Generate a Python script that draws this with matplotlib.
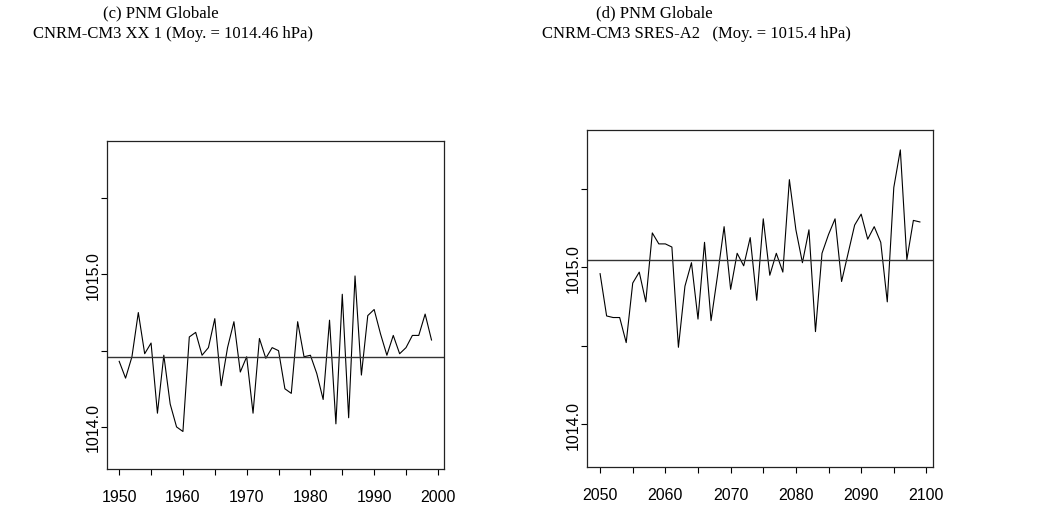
import numpy as np
import matplotlib
matplotlib.use('Agg')
import matplotlib.pyplot as plt

# annees et PNM globale
years_c = list(range(1950, 2000))
pnm_c = [1014.43, 1014.32, 1014.46, 1014.75, 1014.48, 1014.55, 1014.09, 1014.47, 1014.15, 1014.00,
         1013.97, 1014.59, 1014.62, 1014.47, 1014.52, 1014.71, 1014.27, 1014.52, 1014.69, 1014.36,
         1014.46, 1014.09, 1014.58, 1014.45, 1014.52, 1014.50, 1014.25, 1014.22, 1014.69, 1014.46,
         1014.47, 1014.35, 1014.18, 1014.70, 1014.02, 1014.87, 1014.06, 1014.99, 1014.34, 1014.73,
         1014.77, 1014.61, 1014.47, 1014.60, 1014.48, 1014.52, 1014.60, 1014.60, 1014.74, 1014.57]
moy_c = 1014.46

years_d = list(range(2050, 2100))
pnm_d = [1014.96, 1014.69, 1014.68, 1014.68, 1014.52, 1014.90, 1014.97, 1014.78, 1015.22, 1015.15,
         1015.15, 1015.13, 1014.49, 1014.88, 1015.03, 1014.67, 1015.16, 1014.66, 1014.95, 1015.26,
         1014.86, 1015.09, 1015.01, 1015.19, 1014.79, 1015.31, 1014.95, 1015.09, 1014.97, 1015.56,
         1015.24, 1015.03, 1015.24, 1014.59, 1015.09, 1015.21, 1015.31, 1014.91, 1015.09, 1015.27,
         1015.34, 1015.18, 1015.26, 1015.16, 1014.78, 1015.51, 1015.75, 1015.05, 1015.30, 1015.29]
moy_d = 1015.05

titre_c = ["(c) PNM Globale", "CNRM-CM3 XX 1 (Moy. = 1014.46 hPa)"]
titre_d = ["(d) PNM Globale", "CNRM-CM3 SRES-A2   (Moy. = 1015.4 hPa)"]

y_ticks = [1014.0, 1014.5, 1015.0, 1015.5]
y_labels = ["1014.0", "", "1015.0", ""]

W, H = 1046, 506
fig = plt.figure(figsize=(W / 100, H / 100), dpi=100)


def panel(rect, years, vals, moy, xt):
    ax = fig.add_axes(rect)
    ax.plot(years, vals, color='black', linewidth=0.8)
    ax.axhline(moy, color='#333333', linewidth=1.0)
    ax.set_xlim(years[0] - 0.04 * (years[-1] - years[0]), years[-1] + 0.04 * (years[-1] - years[0]))
    ax.set_ylim(1013.724, 1015.877)
    ax.set_xticks(np.arange(xt, xt + 51, 5))
    ax.set_xticklabels([str(v) if v % 10 == 0 else "" for v in range(xt, xt + 51, 5)],
                       fontfamily='Liberation Sans', fontsize=11.5)
    ax.set_yticks(y_ticks)
    ax.set_yticklabels(y_labels, rotation=90, va='center', ha='right',
                       fontfamily='Liberation Sans', fontsize=11.5)
    ax.tick_params(axis='x', length=4.5, width=0.8, pad=10)
    ax.tick_params(axis='y', length=4.5, width=0.8, pad=0)
    for s in ax.spines.values():
        s.set_linewidth(0.9)
        s.set_color('#222222')
    return ax


panel([106.7 / W, 1 - 470 / H, (444 - 106.7) / W, (470 - 141.7) / H], years_c, pnm_c, moy_c, 1950)
panel([587.3 / W, 1 - 468.3 / H, (932.7 - 587.3) / W, (468.3 - 131) / H], years_d, pnm_d, moy_d, 2050)

fig.text(103 / W, 1 - 13 / H, titre_c[0], ha='left', va='center', fontfamily='Liberation Serif', fontsize=12)
fig.text(173 / W, 1 - 34 / H, titre_c[1], ha='center', va='center', fontfamily='Liberation Serif', fontsize=12)
fig.text(596 / W, 1 - 13 / H, titre_d[0], ha='left', va='center', fontfamily='Liberation Serif', fontsize=12)
fig.text(696 / W, 1 - 34 / H, titre_d[1], ha='center', va='center', fontfamily='Liberation Serif', fontsize=12)

fig.savefig('out.png', dpi=100)
